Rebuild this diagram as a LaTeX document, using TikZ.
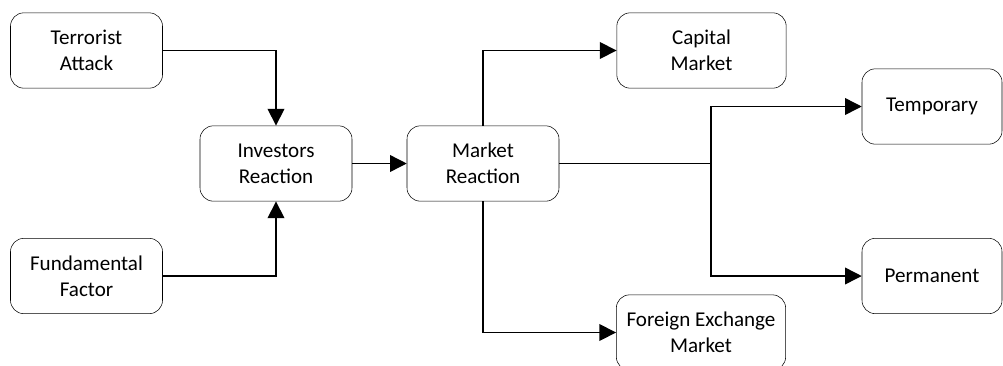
\documentclass[tikz,border=0pt]{standalone}
\usepackage{fontspec}
\setmainfont{Carlito}
\usetikzlibrary{arrows.meta}

\begin{document}
\begin{tikzpicture}[x=0.75pt, y=-0.75pt,
            box/.style={draw, thin, rounded corners=10pt, align=center, inner sep=0pt,
                        minimum width=114pt, minimum height=56.5pt,
                        font=\fontsize{15.8}{19.5}\selectfont},
            flow/.style={line width=1.1pt, -{Triangle[length=12.5pt, width=12.5pt]}}]
            % Frame to fix the margins
            \useasboundingbox (0,0) rectangle (1003,365);
            % Sources
            \node[box] (terror) at ( 86.5, 50.5) {Terrorist\\Attack};
            \node[box] (fund)   at ( 86.5,276.0) {Fundamental\\Factor};
            % Reactions
            \node[box] (invest) at (276.0,163.5) {Investors\\Reaction};
            \node[box] (market) at (483.0,163.5) {Market\\Reaction};
            % Markets
            \node[box, minimum width=127pt] (capital) at (701.5, 50.5) {Capital\\Market};
            \node[box, minimum width=127pt] (foreign) at (701.0,332.5) {Foreign Exchange\\Market};
            % Effects
            \node[box, minimum width=105pt] (temp) at (932.0,106.5) {Temporary};
            \node[box, minimum width=105pt] (perm) at (932.0,276.0) {Permanent};
            % Connectors
            \draw[flow] (terror.east) -| (invest.north);
            \draw[flow] (fund.east) -| (invest.south);
            \draw[flow] (invest.east) -- (market.west);
            \draw[flow] (market.north) |- (capital.west);
            \draw[flow] (market.south) |- (foreign.west);
            \coordinate (split) at (711,163.5);
            \draw[line width=1.1pt] (market.east) -- (split);
            \draw[flow] (split) |- (temp.west);
            \draw[flow] (split) |- (perm.west);
        \end{tikzpicture}
\end{document}
